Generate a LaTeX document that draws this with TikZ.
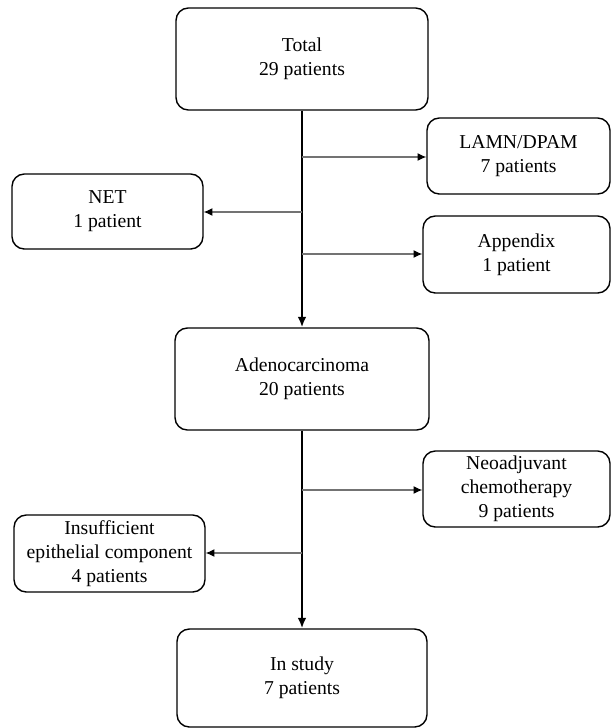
\documentclass[tikz,border=0pt]{standalone}
\usepackage{fontspec}
\setmainfont{Liberation Serif}
\usepackage{tikz}
\usetikzlibrary{arrows.meta}
\usetikzlibrary{shapes}

\tikzset{
    stage/.style = {draw, line width = 0.8pt, rounded corners = 7pt, align = center,
        font = \fontsize{11.2}{13.8}\selectfont, inner sep = 0pt},
    mainline/.style = {-{Latex[length = 6pt, width = 5pt]}, line width = 1.5pt},
    sideline/.style = {-{Latex[length = 5pt, width = 4.5pt, color = black]}, line width = 0.6pt, color = black!55}
}

\begin{document}
\begin{tikzpicture}[x = 0.02cm, y = -0.02cm]
            \useasboundingbox (0, 0) rectangle (611, 728);

            \node[stage, minimum width = 5.04cm, minimum height = 2.04cm] (total) at (302, 59) {Total\\29 patients};
            \node[stage, minimum width = 3.66cm, minimum height = 1.52cm] (lamn) at (518.5, 156) {LAMN/DPAM\\7 patients};
            \node[stage, minimum width = 3.82cm, minimum height = 1.5cm] (net) at (107.5, 211.5) {NET\\1 patient};
            \node[stage, minimum width = 3.74cm, minimum height = 1.54cm] (app) at (516.5, 254.5) {Appendix\\1 patient};
            \node[stage, minimum width = 5.08cm, minimum height = 2.04cm] (adeno) at (302, 379) {Adenocarcinoma\\20 patients};
            \node[stage, minimum width = 3.74cm, minimum height = 1.52cm] (neo) at (516.5, 489) {Neoadjuvant\\chemotherapy\\9 patients};
            \node[stage, minimum width = 3.82cm, minimum height = 1.54cm] (insuf) at (109.5, 553.5) {Insufficient\\epithelial component\\4 patients};
            \node[stage, minimum width = 5.0cm, minimum height = 1.96cm] (study) at (302, 678) {In study\\7 patients};

            \draw[mainline] (total) -- (adeno);
            \draw[mainline] (adeno) -- (study);

            \coordinate (b1) at (302, 157);
            \coordinate (b2) at (302, 212);
            \coordinate (b3) at (302, 254);
            \coordinate (b4) at (302, 490);
            \coordinate (b5) at (302, 553);
            \draw[sideline] (b1) -- (b1 -| lamn.west);
            \draw[sideline] (b2) -- (b2 -| net.east);
            \draw[sideline] (b3) -- (b3 -| app.west);
            \draw[sideline] (b4) -- (b4 -| neo.west);
            \draw[sideline] (b5) -- (b5 -| insuf.east);
        \end{tikzpicture}
\end{document}
